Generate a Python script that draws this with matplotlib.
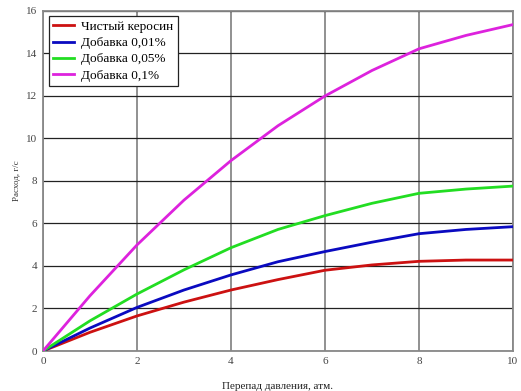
import numpy as np
import matplotlib.pyplot as plt

# Расход через форсунку при разных добавках (г/с) в зависимости от перепада давления
dp = [0, 1, 2, 3, 4, 5, 6, 7, 8, 9, 10]
kerosene = [0, 0.88, 1.65, 2.3, 2.87, 3.36, 3.8, 4.05, 4.22, 4.28, 4.28]
add_001 = [0, 1.08, 2.05, 2.87, 3.58, 4.2, 4.68, 5.12, 5.52, 5.72, 5.85]
add_005 = [0, 1.42, 2.68, 3.82, 4.86, 5.72, 6.37, 6.95, 7.42, 7.62, 7.76]
add_01 = [0, 2.6, 4.99, 7.1, 8.96, 10.6, 12.0, 13.2, 14.22, 14.85, 15.36]

series = [
    ("Чистый керосин", kerosene, "#cc1111"),
    ("Добавка 0,01%", add_001, "#0a0ac0"),
    ("Добавка 0,05%", add_005, "#22dd22"),
    ("Добавка 0,1%", add_01, "#dd22dd"),
]

plt.rcParams['font.family'] = ['Liberation Serif', 'DejaVu Serif']

fig = plt.figure(figsize=(5.21, 3.91), dpi=100)
ax = fig.add_axes([0.0825, 0.1023, 0.9021, 0.8696])

for label, vals, color in series:
    ax.plot(dp, vals, color=color, linewidth=2.0, label=label, zorder=3)

ax.set_xlim(0, 10)
ax.set_ylim(0, 16)
ax.set_xticks(np.arange(0, 11, 2))
ax.set_yticks(np.arange(0, 17, 2))

# вертикальная сетка серая, горизонтальная тёмная
ax.xaxis.grid(True, color='#888888', linewidth=1.3)
ax.yaxis.grid(True, color='#222222', linewidth=0.9)
ax.set_axisbelow(True)
for s in ax.spines.values():
    s.set_color('#888888')
    s.set_linewidth(1.3)

ax.tick_params(length=0, labelsize=8, labelcolor='#444444', pad=4)

ax.set_xlabel("Перепад давления, атм.", fontsize=8, color='#222222', labelpad=12)
ax.set_ylabel("Расход, г/с", fontsize=6.5, color='#333333', labelpad=4)

leg = ax.legend(loc='upper left', bbox_to_anchor=(0.012, 0.985), fontsize=9.5,
                frameon=True, fancybox=False, framealpha=1, edgecolor='#222222',
                handlelength=1.6, handletextpad=0.5, borderpad=0.35, labelspacing=0.3,
                borderaxespad=0.0)
leg.get_frame().set_linewidth(0.9)

fig.savefig("out.png", dpi=100)
